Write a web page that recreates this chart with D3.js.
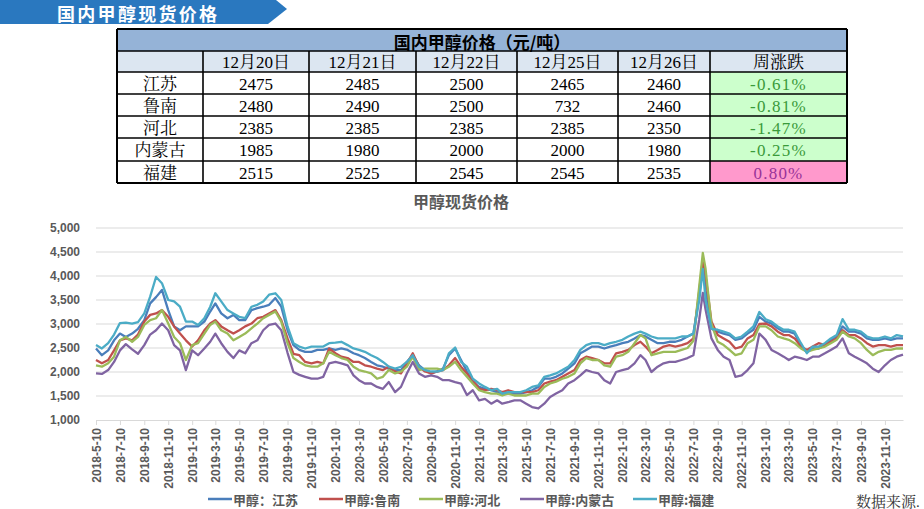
<!DOCTYPE html>
<html><head><meta charset="utf-8">
<script src="https://cdn.jsdelivr.net/npm/d3@7"></script>
<style>
html,body{margin:0;padding:0;background:#fff;}
svg{display:block;}
</style></head><body>
<svg id="c" width="924" height="509"></svg>
<script>
// ---------- DATA ----------
const dates = [
"2018-05-10","2018-05-25","2018-06-10","2018-06-25","2018-07-10","2018-07-25","2018-08-10","2018-08-25","2018-09-10","2018-09-25","2018-10-10","2018-10-25","2018-11-10","2018-11-25","2018-12-10","2018-12-25",
"2019-01-10","2019-01-25","2019-02-10","2019-02-25","2019-03-10","2019-03-25","2019-04-10","2019-04-25","2019-05-10","2019-05-25","2019-06-10","2019-06-25","2019-07-10","2019-07-25","2019-08-10","2019-08-25","2019-09-10","2019-09-25","2019-10-10","2019-10-25","2019-11-10","2019-11-25","2019-12-10","2019-12-25",
"2020-01-10","2020-01-25","2020-02-10","2020-02-25","2020-03-10","2020-03-25","2020-04-10","2020-04-25","2020-05-10","2020-05-25","2020-06-10","2020-06-25","2020-07-10","2020-07-25","2020-08-10","2020-08-25","2020-09-10","2020-09-25","2020-10-10","2020-10-25","2020-11-10","2020-11-25","2020-12-10","2020-12-25",
"2021-01-10","2021-01-25","2021-02-10","2021-02-25","2021-03-10","2021-03-25","2021-04-10","2021-04-25","2021-05-10","2021-05-25","2021-06-10","2021-06-25","2021-07-10","2021-07-25","2021-08-10","2021-08-25","2021-09-10","2021-09-25","2021-10-10","2021-10-25","2021-11-10","2021-11-25","2021-12-10","2021-12-25",
"2022-01-10","2022-01-25","2022-02-10","2022-02-25","2022-03-10","2022-03-25","2022-04-10","2022-04-25","2022-05-10","2022-05-25","2022-06-10","2022-06-25","2022-07-10","2022-07-25","2022-08-03","2022-08-10","2022-08-25","2022-09-10","2022-09-25","2022-10-10","2022-10-25","2022-11-10","2022-11-25","2022-12-10","2022-12-25",
"2023-01-10","2023-01-25","2023-02-10","2023-02-25","2023-03-10","2023-03-25","2023-04-10","2023-04-25","2023-05-10","2023-05-25","2023-06-10","2023-06-25","2023-07-10","2023-07-25","2023-08-10","2023-08-25","2023-09-10","2023-09-25","2023-10-10","2023-10-25","2023-11-10","2023-11-25","2023-12-10","2023-12-26"
];

const jiangsu = [
2490,2350,2450,2660,2800,2730,2800,2900,3080,3430,
3560,3710,3290,2950,2870,2950,2950,2950,3050,3260,
3430,3220,3120,3190,3080,3080,3290,3330,3360,3400,
3540,3360,2870,2560,2460,2420,2420,2460,2460,2490,
2460,2490,2460,2390,2350,2290,2210,2140,2110,2070,
2040,2040,2210,2350,2140,2040,1970,2010,2070,2350,
2490,2250,2010,1790,1690,1650,1620,1580,1550,1550,
1550,1550,1580,1620,1690,1860,1860,1900,1970,2070,
2180,2390,2460,2530,2530,2490,2530,2560,2600,2630,
2700,2770,2740,2670,2600,2600,2630,2630,2670,2740,
2800,3600,4250,3700,2900,
2840,2800,2770,2670,2700,2800,2880,3150,3050,3010,
2910,2840,2840,2800,2560,2420,2490,2490,2560,2670,
2740,2950,2840,2840,2800,2700,2670,2670,2700,2670,
2700,2700];

const lunan = [
2250,2180,2250,2450,2660,2700,2660,2780,3050,3190,
3220,3290,3150,2950,2800,2660,2530,2660,2870,3010,
3080,2950,2870,2800,2870,2950,3010,3120,3150,3220,
3290,3080,2700,2380,2350,2210,2180,2210,2180,2490,
2390,2320,2290,2210,2210,2140,2110,2070,2040,2110,
2010,1970,2180,2390,2110,2010,1970,2010,2040,2140,
2290,2110,1970,1830,1650,1620,1650,1620,1580,1620,
1580,1580,1580,1580,1620,1760,1800,1830,1900,1970,
2040,2250,2320,2290,2250,2180,2180,2390,2420,2460,
2560,2630,2530,2390,2460,2530,2560,2530,2560,2600,
2700,3700,4350,4000,3050,
2770,2700,2630,2490,2530,2700,2770,3000,3010,2950,
2840,2770,2770,2700,2530,2460,2530,2600,2560,2630,
2700,2870,2770,2770,2700,2600,2530,2560,2560,2530,
2560,2560];

const hebei = [
2140,2110,2180,2320,2660,2730,2630,2730,2980,3080,
3120,3290,3010,2730,2600,2250,2560,2600,2800,2980,
3050,2870,2800,2660,2730,2800,2910,3010,3120,3190,
3260,3050,2600,2290,2210,2140,2110,2110,2180,2420,
2350,2290,2250,2110,2040,2010,1970,1860,1900,2040,
1970,2010,2110,2320,2040,2070,2070,2070,2040,2110,
2210,2040,1900,1760,1620,1580,1550,1550,1510,1550,
1510,1510,1510,1550,1550,1690,1760,1800,1860,1900,
1970,2180,2290,2250,2250,2140,2110,2320,2350,2420,
2600,2770,2700,2350,2390,2420,2420,2420,2460,2500,
2650,3800,4480,4150,3000,
2630,2560,2460,2350,2390,2600,2670,2950,2950,2870,
2740,2700,2670,2600,2490,2420,2460,2490,2530,2600,
2670,2840,2740,2700,2600,2460,2350,2420,2460,2460,
2490,2490];

const neimenggu = [
1970,1960,2040,2210,2450,2580,2470,2380,2560,2780,
2870,3010,2870,2560,2450,2040,2450,2350,2490,2630,
2800,2600,2420,2290,2450,2390,2600,2660,2870,2980,
3010,2870,2400,2000,1940,1900,1860,1860,1900,2180,
2210,2180,2140,1930,1830,1760,1760,1690,1650,1790,
1580,1690,1970,2210,1970,1900,1930,1900,1830,1830,
1790,1760,1520,1620,1410,1440,1340,1410,1340,1370,
1410,1410,1340,1270,1240,1340,1480,1550,1620,1760,
1830,1930,2040,2000,1970,1830,1760,2000,2040,2070,
2180,2350,2250,2000,2110,2180,2210,2210,2250,2290,
2350,3100,3650,3300,2700,
2460,2320,2250,1900,1930,2040,2180,2800,2670,2460,
2390,2320,2250,2320,2290,2250,2320,2320,2390,2460,
2530,2700,2390,2320,2250,2180,2070,2000,2140,2250,
2320,2360];

const fujian = [
2560,2490,2600,2780,3020,3030,3010,3040,3220,3570,
3980,3850,3500,3470,3360,3050,3050,2980,3120,3360,
3640,3470,3290,3220,3150,3120,3360,3400,3470,3610,
3640,3500,2950,2600,2530,2490,2530,2530,2530,2600,
2610,2630,2560,2490,2460,2420,2350,2290,2210,2110,
2070,2110,2210,2350,2110,2040,2010,2010,2040,2390,
2510,2210,2110,1860,1760,1690,1620,1650,1550,1580,
1580,1580,1620,1690,1720,1900,1930,1970,2040,2110,
2250,2460,2560,2600,2600,2560,2600,2630,2670,2740,
2800,2840,2800,2740,2700,2700,2700,2700,2740,2740,
2800,3500,4150,3500,2900,
2880,2840,2800,2700,2740,2840,2950,3250,3100,3050,
2950,2880,2880,2840,2600,2390,2530,2530,2600,2700,
2770,3100,2880,2880,2840,2740,2700,2700,2740,2700,
2770,2740];

const seriesNames = ["甲醇：江苏","甲醇:鲁南","甲醇:河北","甲醇:内蒙古","甲醇:福建"];
const seriesColors = ["#4a7ebb","#c0504d","#9bbb59","#8064a2","#4bacc6"];
const yTicks = [1000,1500,2000,2500,3000,3500,4000,4500,5000];
const xTickLabels = [
"2018-5-10","2018-7-10","2018-9-10","2018-11-10","2019-1-10","2019-3-10","2019-5-10","2019-7-10","2019-9-10","2019-11-10",
"2020-1-10","2020-3-10","2020-5-10","2020-7-10","2020-9-10","2020-11-10","2021-1-10","2021-3-10","2021-5-10","2021-7-10",
"2021-9-10","2021-11-10","2022-1-10","2022-3-10","2022-5-10","2022-7-10","2022-9-10","2022-11-10","2023-1-10","2023-3-10",
"2023-5-10","2023-7-10","2023-9-10","2023-11-10"];

const bannerTitle = "国内甲醇现货价格";
const chartTitle = "甲醇现货价格";
const sourceNote = "数据来源.";
const tableTitle = "国内甲醇价格（元/吨）";
const tableDates = ["12月20日","12月21日","12月22日","12月25日","12月26日"];
const tableChangeHeader = "周涨跌";
const tableRegions = ["江苏","鲁南","河北","内蒙古","福建"];
const tableValues = [
  [2475,2485,2500,2465,2460],
  [2480,2490,2500,732,2460],
  [2385,2385,2385,2385,2350],
  [1985,1980,2000,2000,1980],
  [2515,2525,2545,2545,2535]];
const tableChange = [-0.61,-0.81,-1.47,-0.25,0.80];

// ---------- DRAW ----------
const svg = d3.select("#c");
const cjk = "'Noto Sans CJK SC','Noto Sans',sans-serif";
const serif = "'Liberation Serif','Noto Serif CJK SC','Noto Sans CJK SC',serif";
const numFont = "'Liberation Sans','Noto Sans CJK SC',sans-serif";
const gray = "#595959";

// banner
svg.append("polygon").attr("points","0,0 276,0 287,9 268,24 0,24").attr("fill","#2a78bf");
svg.append("text").attr("x",57).attr("y",12.5).attr("dominant-baseline","central").attr("fill","#fff")
  .style("font-family",cjk).style("font-weight",700).style("font-size","18px").style("letter-spacing","2.3px").text(bannerTitle);

// table
const colX = [117,203,309,416,517,618,710,847];
const rowY = [29,51,72,94,116,138,161,183];
const tg = svg.append("g");
tg.append("rect").attr("x",colX[0]).attr("y",rowY[0]).attr("width",colX[7]-colX[0]).attr("height",rowY[1]-rowY[0]).attr("fill","#95b3d7");
tg.append("rect").attr("x",colX[0]).attr("y",rowY[1]).attr("width",colX[7]-colX[0]).attr("height",rowY[2]-rowY[1]).attr("fill","#dce6f1");
tableChange.forEach((c,i)=>{
  tg.append("rect").attr("x",colX[6]).attr("y",rowY[i+2]).attr("width",colX[7]-colX[6]).attr("height",rowY[i+3]-rowY[i+2])
    .attr("fill", c<0 ? "#ccffcc" : "#ff99cc");
});
function cellText(col,row,txt,opts={}){
  tg.append("text").attr("x",(colX[col]+colX[col+1])/2).attr("y",(rowY[row]+rowY[row+1])/2+1)
    .attr("text-anchor","middle").attr("dominant-baseline","central")
    .attr("fill",opts.fill||"#000").style("font-family",serif).style("font-size","17px")
    .style("letter-spacing",opts.ls||"0px").text(txt);
}
tg.append("text").attr("x",(colX[0]+colX[7])/2).attr("y",(rowY[0]+rowY[1])/2+1)
  .attr("text-anchor","middle").attr("dominant-baseline","central")
  .style("font-family",cjk).style("font-weight",700).style("font-size","17px").attr("fill","#000").text(tableTitle);
tableDates.forEach((d,i)=>cellText(i+1,1,d));
cellText(6,1,tableChangeHeader);
tableRegions.forEach((r,i)=>{
  cellText(0,i+2,r);
  tableValues[i].forEach((v,j)=>cellText(j+1,i+2,String(v)));
  const c = tableChange[i];
  cellText(6,i+2,(c<0?"-":"")+Math.abs(c).toFixed(2)+"%",{fill: c<0 ? "#3a9a3a" : "#993399", ls:"1.2px"});
});
rowY.forEach((yy,i)=>{
  tg.append("line").attr("x1",colX[0]).attr("x2",colX[7]).attr("y1",yy).attr("y2",yy)
    .attr("stroke","#000").attr("stroke-width", (i===0||i===rowY.length-1)?2:1.3);
});
colX.forEach((xx,i)=>{
  const outer = i===0||i===colX.length-1;
  tg.append("line").attr("x1",xx).attr("x2",xx).attr("y1",outer?rowY[0]:rowY[1]).attr("y2",rowY[7])
    .attr("stroke","#000").attr("stroke-width", outer?2:1.6);
});

// chart
const parse = d3.timeParse("%Y-%m-%d");
const parseTick = d3.timeParse("%Y-%-m-%-d");
const fmtTick = d3.timeFormat("%Y-%-m-%-d");
const dts = dates.map(parse);
const x = d3.scaleTime().domain([dts[0], dts[dts.length-1]]).range([96,903]);
const y = d3.scaleLinear().domain([1000,5000]).range([420,228]);

svg.append("text").attr("x",461).attr("y",208).attr("text-anchor","middle").attr("fill",gray)
  .style("font-family",cjk).style("font-weight",700).style("font-size","16px").text(chartTitle);

const grid = svg.append("g");
yTicks.filter(t=>t>1000).forEach(t=>{
  grid.append("line").attr("x1",96).attr("x2",903).attr("y1",y(t)).attr("y2",y(t))
    .attr("stroke","#d9d9d9").attr("stroke-width",1);
});
const yAxis = d3.axisLeft(y).tickValues(yTicks).tickFormat(d3.format(",")).tickSize(0);
const gy = svg.append("g").attr("transform","translate(82,0)").call(yAxis);
gy.select(".domain").remove();
gy.selectAll("text").attr("x",-2).attr("fill",gray)
  .style("font-family",numFont).style("font-weight",700).style("font-size","12px");

const xAxis = d3.axisBottom(x).tickValues(xTickLabels.map(parseTick)).tickFormat(fmtTick).tickSize(5).tickSizeOuter(0);
const gx = svg.append("g").attr("transform","translate(0,420)").call(xAxis);
gx.select(".domain").attr("stroke","#d9d9d9");
gx.selectAll(".tick line").attr("stroke","#d9d9d9");
gx.selectAll("text").attr("y",0).attr("x",-8).attr("dy","0.35em").attr("transform","rotate(-90)")
  .style("text-anchor","end").attr("fill",gray)
  .style("font-family",numFont).style("font-weight",700).style("font-size","12px");

const allSeries = [jiangsu, lunan, hebei, neimenggu, fujian];
const line = d3.line().x((d,i)=>x(dts[i])).y(d=>y(d));
allSeries.forEach((s,k)=>{
  svg.append("path").datum(s).attr("d",line).attr("fill","none")
    .attr("stroke",seriesColors[k]).attr("stroke-width",2.3).attr("stroke-linejoin","round");
});

// legend
const legX = [208,319,419,520,633];
seriesNames.forEach((n,k)=>{
  svg.append("line").attr("x1",legX[k]).attr("x2",legX[k]+24).attr("y1",499).attr("y2",499)
    .attr("stroke",seriesColors[k]).attr("stroke-width",2.5);
  svg.append("text").attr("x",legX[k]+25).attr("y",499).attr("dominant-baseline","central").attr("fill",gray)
    .style("font-family",cjk).style("font-weight",700).style("font-size","13px").text(n);
});
svg.append("text").attr("x",856).attr("y",502).attr("dominant-baseline","central").attr("fill","#333")
  .style("font-family",serif).style("font-size","15px").text(sourceNote);
</script>
</body></html>
